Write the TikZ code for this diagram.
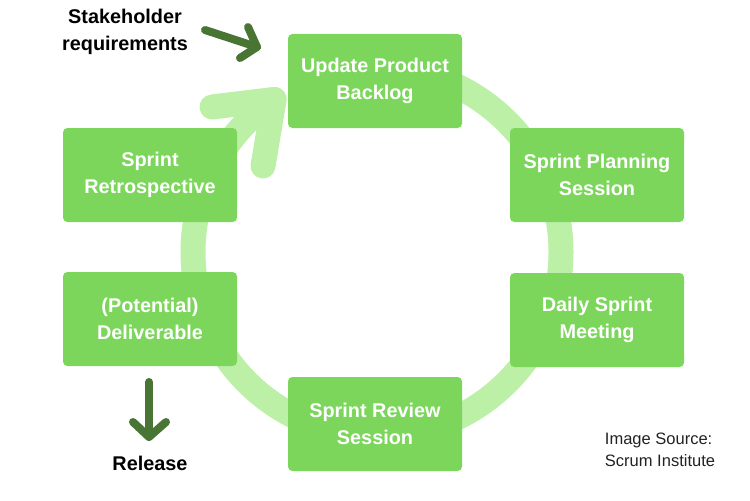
\documentclass[tikz,border=0pt]{standalone}
\usepackage{fontspec}
\setmainfont{Liberation Sans}
\definecolor{boxgreen}{HTML}{7BD65B}
\definecolor{ringgreen}{HTML}{BCF0A6}
\definecolor{darkarrow}{HTML}{487534}
\definecolor{srcgray}{HTML}{222222}
\begin{document}
\begin{tikzpicture}[x=0.02cm,y=-0.02cm,
  stagebox/.style={fill=boxgreen, draw=none, rounded corners=2.5pt,
    minimum width=174*0.02cm, minimum height=94*0.02cm, inner sep=0pt,
    text=white, align=center, font=\fontsize{11.3}{15.3}\selectfont\bfseries},
  blacklabel/.style={text=black, align=center, font=\fontsize{11.3}{15.3}\selectfont\bfseries},
  srclabel/.style={text=srcgray, align=left, font=\fontsize{9.4}{12.5}\selectfont},
  ringline/.style={draw=ringgreen, line width=25*0.02cm, line cap=round, line join=round},
  darkline/.style={draw=darkarrow, line width=8*0.02cm, line cap=round, line join=round}]
\useasboundingbox (0,0) rectangle (750,500);
% ring
\coordinate (c) at (377,252);
\draw[ringline] (377,68) arc[start angle=-90, end angle=236, radius=184] coordinate (tip);
\draw[ringline] (212,107) -- (tip) -- (263,166);
% boxes
\node[stagebox] (backlog) at (375,81) {Update Product\\Backlog};
\node[stagebox] (planning) at (597,175) {Sprint Planning\\Session};
\node[stagebox] (daily) at (597,320) {Daily Sprint\\Meeting};
\node[stagebox] (review) at (375,424) {Sprint Review\\Session};
\node[stagebox] (deliv) at (150,319) {(Potential)\\Deliverable};
\node[stagebox] (retro) at (150,175) {Sprint\\Retrospective};
% labels
\node[blacklabel] (stake) at (125,32) {Stakeholder\\requirements};
\node[blacklabel] (release) at (150,463) {Release};
\node[srclabel] (src) at (660,450) {Image Source:\\Scrum Institute};
% stakeholder arrow
\coordinate (s1) at (205,30);
\coordinate (s2) at (257,47);
\draw[darkline] (s1) -- (s2);
\draw[darkline] (248,27) -- (s2) -- (240,58);
% release arrow
\coordinate (r1) at (149,382);
\coordinate (r2) at (149,437);
\draw[darkline] (r1) -- (r2);
\draw[darkline] (133,422) -- (r2) -- (166,422);
\end{tikzpicture}
\end{document}
